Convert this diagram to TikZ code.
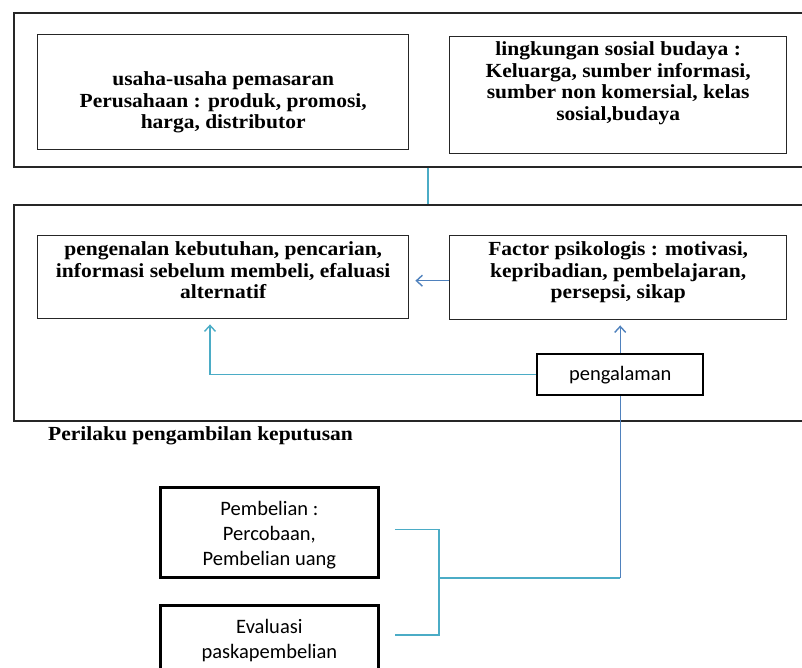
\documentclass[tikz,border=0pt]{standalone}
\usepackage{fontspec}
\newfontfamily\serifbox{Liberation Serif}[FakeStretch=1.075]
\newfontfamily\sansbox{Carlito}
\usetikzlibrary{arrows.meta,calc}
\definecolor{linecyan}{HTML}{4BACC6}
\definecolor{lineblue}{HTML}{4F81BD}
\definecolor{edgegray}{HTML}{262626}
\newcommand{\fixbox}[4]{\parbox[c][#2][t]{#1}{\centering\rule{0pt}{#3}#4}}
\begin{document}
\begin{tikzpicture}[x=1pt,y=-1pt,
  frame/.style={draw=edgegray,line width=1.5pt,rectangle,inner sep=0pt,anchor=north west},
  serifnode/.style={draw=edgegray,line width=1.4pt,rectangle,inner sep=0pt,anchor=north west,
    font=\serifbox\bfseries\fontsize{20}{21.5}\selectfont},
  sansnode/.style={draw=black,line width=2.8pt,rectangle,inner sep=0pt,anchor=north west,
    font=\sansbox\fontsize{20.5}{25}\selectfont},
  cyanline/.style={draw=linecyan,line width=1.4pt},
  blueline/.style={draw=lineblue,line width=1.4pt},
  openarrow/.style={-{Straight Barb[length=6pt,width=11pt]}}
]
\useasboundingbox (0,0) rectangle (802,667);

% outer frames
\node[frame,minimum width=800pt,minimum height=154pt] (outer1) at (13,12) {};
\node[frame,minimum width=800pt,minimum height=216pt] (outer2) at (13,204) {};

% top boxes
\node[serifnode] (boxA) at (37,34)
  {\fixbox{371pt}{115pt}{51pt}{usaha-usaha pemasaran\\Perusahaan : produk, promosi,\\harga, distributor}};
\node[serifnode] (boxB) at (449,36)
  {\fixbox{337pt}{117pt}{19pt}{lingkungan sosial budaya :\\Keluarga, sumber informasi,\\sumber non komersial, kelas\\sosial,budaya}};

% middle boxes
\node[serifnode] (boxC) at (37,235)
  {\fixbox{371pt}{83pt}{20pt}{pengenalan kebutuhan, pencarian,\\informasi sebelum membeli, efaluasi\\alternatif}};
\node[serifnode] (boxD) at (449,235)
  {\fixbox{337pt}{84pt}{20pt}{Factor psikologis : motivasi,\\kepribadian, pembelajaran,\\persepsi, sikap}};

\node[sansnode,line width=2.4pt] (peng) at (536,353)
  {\parbox[c][41pt][c]{166pt}{\centering pengalaman}};

% label
\node[anchor=base west,inner sep=0pt,font=\serifbox\bfseries\fontsize{20}{21.5}\selectfont] (lbl) at (48,440)
  {Perilaku pengambilan keputusan};

% bottom boxes
\node[sansnode] (pemb) at (159,486)
  {\fixbox{218pt}{90pt}{28pt}{Pembelian :\\Percobaan,\\Pembelian uang}};
\node[sansnode] (evalb) at (159,604)
  {\fixbox{218pt}{90pt}{28pt}{Evaluasi\\paskapembelian}};

% connectors
\coordinate (midx) at (428,0);
\draw[cyanline] (outer1.south -| midx) -- (outer2.north -| midx);
\draw[blueline,openarrow] ($(boxD.west)+(0,3)$) -- ($(boxD.west -| boxC.east)+(6,3)$);
\draw[blueline,openarrow] (peng.north) -- ($(peng.north |- boxD.south)+(0,5)$);
\coordinate (leftx) at (210,0);
\draw[cyanline,openarrow] (peng.west) -| ($(leftx |- boxC.south)+(0,5)$);
\coordinate (br) at (439,578);
\draw[blueline] (peng.south) -- (peng.south |- br);
\draw[cyanline] (peng.south |- br) -- (br);
\draw[cyanline] ($(pemb.east)+(15,-3)$) -| (br) |- ($(evalb.north east)+(15,31)$);
\end{tikzpicture}
\end{document}
